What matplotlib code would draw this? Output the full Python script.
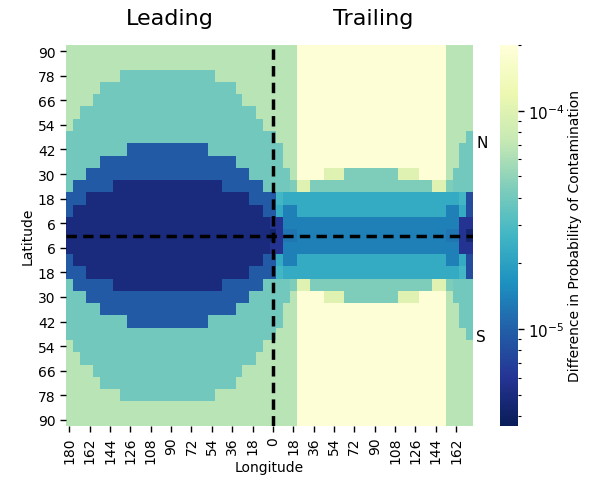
import numpy as np
import matplotlib
matplotlib.use('Agg')
import matplotlib.pyplot as plt
from matplotlib.colors import LogNorm

# colour levels (difference in probability of contamination)
level_values = {
    'y': 1.9e-4,   # pale yellow
    'p': 1.0e-4,   # yellow-green
    'g': 6.6e-5,   # light green
    'l': 4.4e-5,   # light teal (trailing)
    't': 4.0e-5,   # teal
    'k': 2.7e-5,   # light cyan
    'c': 2.26e-5,  # cyan
    'm': 1.38e-5,  # mid blue
    'M': 1.25e-5,  # slightly darker mid blue
    'b': 9.4e-6,   # blue
    'B': 8.0e-6,   # blue, last trailing column
    'd': 5.9e-6,   # dark blue
    'n': 4.95e-6,  # navy
    'x': 4.4e-6,   # darkest
}

# 31 latitude rows (90N -> 90S) x 60 longitude columns
# each row: leading 180..6 (30) | lon 0, 6, 12, 18 | trailing 24..150 (22) | 156..174
grid_rows = [
    "gggggggggggggggggggggggggggggg" + "gggg" + "yyyyyyyyyyyyyyyyyyyyyy" + "gggg",
    "gggggggggggggggggggggggggggggg" + "gggg" + "yyyyyyyyyyyyyyyyyyyyyy" + "gggg",
    "ggggggggttttttttttttttgggggggg" + "gggg" + "yyyyyyyyyyyyyyyyyyyyyy" + "gggg",
    "gggggttttttttttttttttttttggggg" + "gggg" + "yyyyyyyyyyyyyyyyyyyyyy" + "gggg",
    "ggggttttttttttttttttttttttgggg" + "gggg" + "yyyyyyyyyyyyyyyyyyyyyy" + "gggg",
    "ggttttttttttttttttttttttttttgg" + "gggg" + "yyyyyyyyyyyyyyyyyyyyyy" + "gggg",
    "gttttttttttttttttttttttttttttg" + "gggg" + "yyyyyyyyyyyyyyyyyyyyyy" + "gggg",
    "tttttttttttttttttttttttttttttt" + "tggg" + "yyyyyyyyyyyyyyyyyyyyyy" + "gggt",
    "tttttttttbbbbbbbbbbbbttttttttt" + "ttgg" + "yyyyyyyyyyyyyyyyyyyyyy" + "ggtt",
    "tttttbbbbbbbbbbbbbbbbbbbbttttt" + "ttgg" + "yyyyyyyyyyyyyyyyyyyyyy" + "ggtt",
    "tttbbbbbbbbbbbbbbbbbbbbbbbbttt" + "tttg" + "yyyypppllllllllpppyyyy" + "gttt",
    "tbbbbbbnnnnnnnnnnnnnnnnbbbbbbt" + "tttl" + "ppllllllllllllllllllpp" + "lttt",
    "bbbnnnnnnnnnnnnnnnnnnnnnnnnbbb" + "bkcc" + "cccccccccccccccccccccc" + "cckB",
    "bnnnnnnnnnnnnnnnnnnnnnnnnnnnnb" + "bcmm" + "cccccccccccccccccccccc" + "mmcB",
    "nnnnnnnnnnnnnnnnnnnnnnnnnnnnnn" + "ddmm" + "mmmmmmmmmmmmmmmmmmmmmm" + "mmdd",
    "nnnnnnnnnnnnnnnnnnnnnnnnnnnnnn" + "xdMM" + "mmmmmmmmmmmmmmmmmmmmmm" + "MMdx",
    "nnnnnnnnnnnnnnnnnnnnnnnnnnnnnn" + "ddmm" + "mmmmmmmmmmmmmmmmmmmmmm" + "mmdd",
    "bnnnnnnnnnnnnnnnnnnnnnnnnnnnnb" + "bcmm" + "cccccccccccccccccccccc" + "mmcB",
    "bbbnnnnnnnnnnnnnnnnnnnnnnnnbbb" + "bkcc" + "cccccccccccccccccccccc" + "cckB",
    "tbbbbbbnnnnnnnnnnnnnnnnbbbbbbt" + "tttl" + "ppllllllllllllllllllpp" + "lttt",
    "tttbbbbbbbbbbbbbbbbbbbbbbbbttt" + "tttg" + "yyyypppllllllllpppyyyy" + "gttt",
    "tttttbbbbbbbbbbbbbbbbbbbbttttt" + "ttgg" + "yyyyyyyyyyyyyyyyyyyyyy" + "ggtt",
    "tttttttttbbbbbbbbbbbbttttttttt" + "ttgg" + "yyyyyyyyyyyyyyyyyyyyyy" + "ggtt",
    "tttttttttttttttttttttttttttttt" + "tggg" + "yyyyyyyyyyyyyyyyyyyyyy" + "gggt",
    "gttttttttttttttttttttttttttttg" + "gggg" + "yyyyyyyyyyyyyyyyyyyyyy" + "gggg",
    "ggttttttttttttttttttttttttttgg" + "gggg" + "yyyyyyyyyyyyyyyyyyyyyy" + "gggg",
    "ggggttttttttttttttttttttttgggg" + "gggg" + "yyyyyyyyyyyyyyyyyyyyyy" + "gggg",
    "gggggttttttttttttttttttttggggg" + "gggg" + "yyyyyyyyyyyyyyyyyyyyyy" + "gggg",
    "ggggggggttttttttttttttgggggggg" + "gggg" + "yyyyyyyyyyyyyyyyyyyyyy" + "gggg",
    "gggggggggggggggggggggggggggggg" + "gggg" + "yyyyyyyyyyyyyyyyyyyyyy" + "gggg",
    "gggggggggggggggggggggggggggggg" + "gggg" + "yyyyyyyyyyyyyyyyyyyyyy" + "gggg",
]

xtick_labels = [180, 162, 144, 126, 108, 90, 72, 54, 36, 18, 0,
                18, 36, 54, 72, 90, 108, 126, 144, 162]
ytick_labels = [90, 78, 66, 54, 42, 30, 18, 6, 6, 18, 30, 42, 54, 66, 78, 90]

vals = np.array([[level_values[ch] for ch in row] for row in grid_rows])
nrows, ncols = vals.shape

fig = plt.figure(figsize=(5.96, 4.89), dpi=100)
ax = fig.add_axes([66 / 596, 1 - 427 / 489, 407 / 596, 381 / 489])
cax = fig.add_axes([500 / 596, 1 - 427 / 489, 18 / 596, 381 / 489])

norm = LogNorm(vmin=3.6e-6, vmax=2.0e-4)
mesh = ax.pcolormesh(np.arange(ncols + 1), np.arange(nrows + 1), vals,
                     cmap='YlGnBu_r', norm=norm)
ax.set_xlim(0, ncols)
ax.set_ylim(nrows, 0)

ax.axvline(30.5, color='black', linestyle='--', linewidth=2.5, dashes=(3, 1.8))
ax.axhline(15.5, color='black', linestyle='--', linewidth=2.5, dashes=(3, 1.8))

ax.set_xticks(np.arange(0, ncols, 3) + 0.5)
ax.set_xticklabels(xtick_labels, rotation=90, fontsize=10)
ax.set_yticks(np.arange(0, nrows, 2) + 0.5)
ax.set_yticklabels(ytick_labels, fontsize=10)
ax.tick_params(length=4, width=1)
for s in ax.spines.values():
    s.set_visible(False)
ax.set_xlabel('Longitude', fontsize=10, labelpad=-2)
ax.set_ylabel('Latitude', fontsize=10, labelpad=2)

cb = fig.colorbar(mesh, cax=cax)
cb.outline.set_visible(False)
cb.ax.tick_params(labelsize=11, length=4, width=1)
cb.ax.tick_params(which='minor', length=2.5, width=0.8)
cb.set_label('Difference in Probability of Contamination', fontsize=10, labelpad=2)

fig.text(170 / 596, 1 - 19 / 489, 'Leading', fontsize=16, ha='center', va='center')
fig.text(373 / 596, 1 - 19 / 489, 'Trailing', fontsize=16, ha='center', va='center')
fig.text(476 / 596, 1 - 143 / 489, 'N', fontsize=11, ha='left', va='center')
fig.text(476 / 596, 1 - 338 / 489, 'S', fontsize=11, ha='left', va='center')

fig.savefig('out.png', dpi=100)
